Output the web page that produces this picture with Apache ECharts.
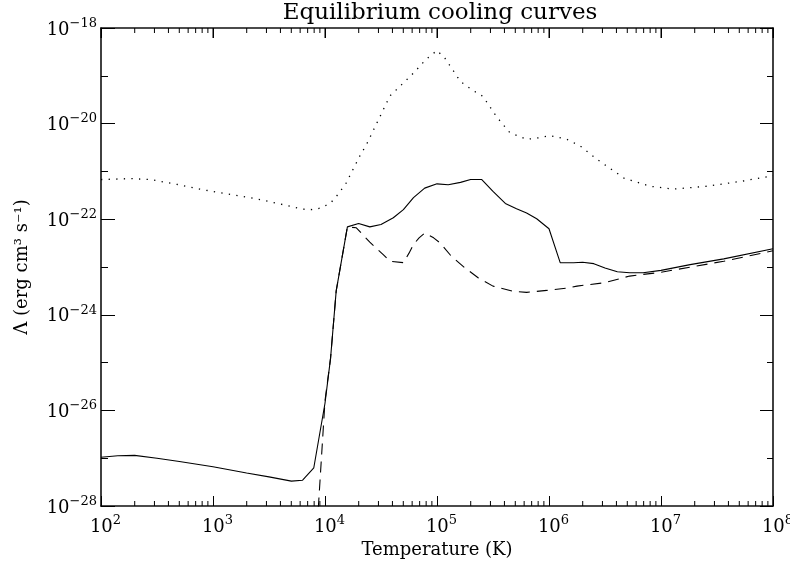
<!DOCTYPE html>
<html>
<head>
<meta charset="utf-8">
<script src="https://cdn.jsdelivr.net/npm/echarts@6/dist/echarts.min.js"></script>
<style>
html,body{margin:0;padding:0;background:#fff;}
#chart{width:790px;height:563px;}
</style>
</head>
<body>
<div id="chart"></div>
<script>
// log10(T) and log10(Lambda) values
const solidLogT = [2.00, 2.15, 2.30, 2.50, 2.70, 3.00, 3.30, 3.50, 3.70, 3.80, 3.90, 4.00, 4.05, 4.10, 4.20, 4.30, 4.40, 4.50, 4.61, 4.70, 4.79, 4.89, 5.00, 5.10, 5.21, 5.30, 5.40, 5.50, 5.61, 5.71, 5.80, 5.89, 6.00, 6.10, 6.22, 6.30, 6.40, 6.50, 6.61, 6.72, 6.84, 7.00, 7.26, 7.56, 8.00];
const solidLogL = [-26.98, -26.95, -26.94, -27.00, -27.07, -27.18, -27.31, -27.39, -27.48, -27.46, -27.20, -25.85, -24.90, -23.50, -22.16, -22.09, -22.16, -22.11, -21.97, -21.80, -21.55, -21.35, -21.26, -21.28, -21.23, -21.17, -21.17, -21.42, -21.67, -21.78, -21.87, -21.99, -22.20, -22.91, -22.91, -22.90, -22.93, -23.02, -23.10, -23.12, -23.12, -23.07, -22.95, -22.83, -22.62];

const dashedLogT = [3.94, 3.96, 4.00, 4.05, 4.10, 4.20, 4.28, 4.40, 4.52, 4.58, 4.70, 4.75, 4.79, 4.84, 4.89, 4.97, 5.03, 5.13, 5.25, 5.37, 5.50, 5.68, 5.80, 5.98, 6.16, 6.25, 6.49, 6.72, 7.00, 7.56, 8.00];
const dashedLogL = [-28.05, -27.30, -25.80, -24.90, -23.50, -22.16, -22.18, -22.48, -22.74, -22.88, -22.91, -22.71, -22.53, -22.39, -22.29, -22.39, -22.50, -22.78, -23.02, -23.23, -23.40, -23.51, -23.53, -23.49, -23.44, -23.40, -23.33, -23.19, -23.11, -22.88, -22.66];

const dottedLogT = [2.00, 2.26, 2.44, 2.70, 2.88, 3.10, 3.33, 3.50, 3.69, 3.80, 3.90, 3.97, 4.05, 4.12, 4.19, 4.31, 4.37, 4.58, 4.70, 4.80, 4.90, 5.00, 5.07, 5.21, 5.31, 5.41, 5.53, 5.65, 5.80, 5.90, 6.01, 6.16, 6.28, 6.43, 6.67, 6.90, 7.11, 7.41, 7.71, 8.00];
const dottedLogL = [-21.17, -21.15, -21.17, -21.28, -21.37, -21.46, -21.55, -21.63, -21.73, -21.79, -21.80, -21.76, -21.66, -21.47, -21.24, -20.68, -20.44, -19.42, -19.15, -18.92, -18.66, -18.47, -18.63, -19.12, -19.29, -19.43, -19.85, -20.19, -20.33, -20.30, -20.25, -20.33, -20.47, -20.75, -21.14, -21.31, -21.37, -21.31, -21.21, -21.09];

// axis settings (decade exponents)
const xDecades = [2, 3, 4, 5, 6, 7, 8];
const yMin = -28, yMax = -18;
const minorMultipliers = [2, 3, 4, 5, 6, 7, 8, 9];

const FONT = 'DejaVu Serif';
const pairs = (a, b) => a.map((v, i) => [v, b[i]]);

const xMinor = [];
xDecades.slice(0, -1).forEach(d => minorMultipliers.forEach(m => xMinor.push(d + Math.log10(m))));

const X0 = xDecades[0], X1 = xDecades[xDecades.length - 1];

function axisLineOn() { return {show: true, lineStyle: {color: '#111', width: 1.6}}; }
function tickStyle(len) {
  return {show: true, inside: true, length: len, lineStyle: {color: '#000', width: 1}};
}

// tick marks on the bottom and top frame edges, placed through the axis scale
function tickSeries(values, len, bottom, top) {
  return {
    type: 'custom', xAxisIndex: 0, yAxisIndex: 0, silent: true, z: 5,
    data: values.map(v => [v, yMin]),
    renderItem: function (params, api) {
      const v = api.value(0);
      const b = api.coord([v, yMin]);
      const t = api.coord([v, yMax]);
      const children = [];
      if (bottom) children.push({type: 'line', shape: {x1: b[0], y1: b[1], x2: b[0], y2: b[1] - len}, style: {stroke: '#000', lineWidth: 1}});
      if (top) children.push({type: 'line', shape: {x1: t[0], y1: t[1], x2: t[0], y2: t[1] + len}, style: {stroke: '#000', lineWidth: 1}});
      return {type: 'group', children: children};
    }
  };
}

const xRich = {
  b: {fontFamily: FONT, fontSize: 18, color: '#000', verticalAlign: 'bottom', padding: [0, 0, 0, 9]},
  s: {fontFamily: FONT, fontSize: 13, color: '#000', verticalAlign: 'bottom', padding: [0, 0, 9, 0]}
};
const yRich = {
  b: {fontFamily: FONT, fontSize: 18, color: '#000', verticalAlign: 'bottom'},
  s: {fontFamily: FONT, fontSize: 13, color: '#000', verticalAlign: 'bottom', padding: [0, 0, 9, 0]}
};

const option = {
  backgroundColor: '#fff',
  animation: false,
  title: {
    text: 'Equilibrium cooling curves',
    left: 440, top: 2, textAlign: 'center', padding: 0,
    textStyle: {fontFamily: FONT, fontSize: 23, fontWeight: 'normal', color: '#000'}
  },
  grid: {left: 101, right: 17, top: 28, bottom: 57, outerBoundsMode: 'none'},
  xAxis: [
    {
      type: 'value', min: X0, max: X1, interval: 1, position: 'bottom',
      splitLine: {show: false},
      axisLine: axisLineOn(),
      axisTick: tickStyle(10),
      axisLabel: {
        margin: 8,
        formatter: v => '{b|10}{s|' + Math.round(v) + '}',
        rich: xRich
      },
      name: 'Temperature (K)', nameLocation: 'middle', nameGap: 29,
      nameTextStyle: {fontFamily: FONT, fontSize: 18, color: '#000'}
    },
    {
      type: 'value', min: X0, max: X1, interval: 1, position: 'top',
      splitLine: {show: false}, axisLine: axisLineOn(), axisLabel: {show: false},
      axisTick: tickStyle(10)
    }
  ],
  yAxis: [
    {
      type: 'value', min: yMin, max: yMax, interval: 2, position: 'left',
      splitLine: {show: false},
      axisLine: axisLineOn(),
      axisTick: tickStyle(14),
      axisLabel: {
        margin: 4,
        formatter: v => { const n = Math.round(v); return '{b|10}{s|' + (n < 0 ? '\u2212' : '') + Math.abs(n) + '}'; },
        rich: yRich
      },
      name: '\u039B (erg cm\u00B3 s\u207B\u00B9)', nameLocation: 'middle', nameGap: 70, nameRotate: 90,
      nameTextStyle: {fontFamily: FONT, fontSize: 18, color: '#000'}
    },
    {
      type: 'value', min: yMin, max: yMax, interval: 1, position: 'left',
      splitLine: {show: false}, axisLine: {show: false}, axisLabel: {show: false},
      axisTick: tickStyle(7)
    },
    {
      type: 'value', min: yMin, max: yMax, interval: 2, position: 'right',
      splitLine: {show: false}, axisLine: axisLineOn(), axisLabel: {show: false},
      axisTick: tickStyle(13)
    },
    {
      type: 'value', min: yMin, max: yMax, interval: 1, position: 'right',
      splitLine: {show: false}, axisLine: {show: false}, axisLabel: {show: false},
      axisTick: tickStyle(6)
    }
  ],
  series: [
    {
      type: 'line', name: 'dotted', xAxisIndex: 0, yAxisIndex: 0,
      data: pairs(dottedLogT, dottedLogL), showSymbol: false, clip: true,
      lineStyle: {color: '#000', width: 1.3, type: [1.3, 6.3]}
    },
    {
      type: 'line', name: 'dashed', xAxisIndex: 0, yAxisIndex: 0,
      data: pairs(dashedLogT, dashedLogL), showSymbol: false, clip: true,
      lineStyle: {color: '#000', width: 1.1, type: [11, 7]}
    },
    {
      type: 'line', name: 'solid', xAxisIndex: 0, yAxisIndex: 0,
      data: pairs(solidLogT, solidLogL), showSymbol: false, clip: true,
      lineStyle: {color: '#000', width: 1.1}
    },
    tickSeries(xMinor, 5, true, true),
    tickSeries(xDecades, 10, false, true)
  ]
};

const chart = echarts.init(document.getElementById('chart'), null, {renderer: 'canvas'});
chart.setOption(option);
</script>
</body>
</html>
